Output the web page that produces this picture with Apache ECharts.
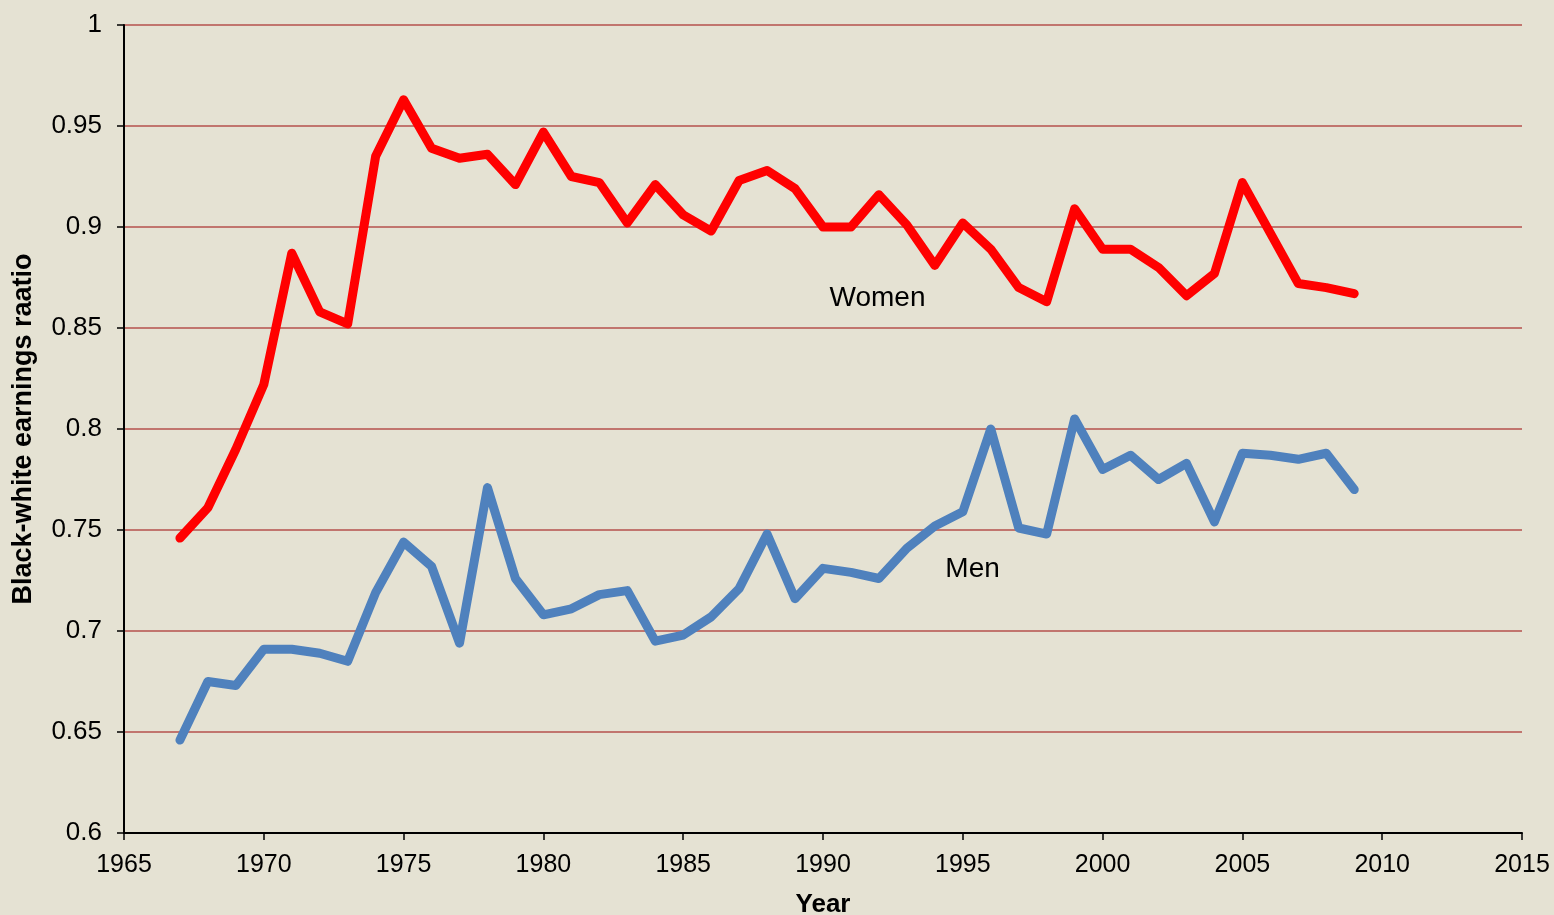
<!DOCTYPE html>
<html>
<head>
<meta charset="utf-8">
<script src="https://cdn.jsdelivr.net/npm/echarts@6/dist/echarts.min.js"></script>
<style>
html,body{margin:0;padding:0;background:#E5E2D3;overflow:hidden;}
#chart{width:1554px;height:915px;}
</style>
</head>
<body>
<div id="chart"></div>
<script>
const years = [1967,1968,1969,1970,1971,1972,1973,1974,1975,1976,1977,1978,1979,1980,1981,1982,1983,1984,1985,1986,1987,1988,1989,1990,1991,1992,1993,1994,1995,1996,1997,1998,1999,2000,2001,2002,2003,2004,2005,2006,2007,2008,2009];
const women = [0.746,0.761,0.790,0.822,0.887,0.858,0.852,0.935,0.963,0.939,0.934,0.936,0.921,0.947,0.925,0.922,0.902,0.921,0.906,0.898,0.923,0.928,0.919,0.900,0.900,0.916,0.901,0.881,0.902,0.889,0.870,0.863,0.909,0.889,0.889,0.880,0.866,0.877,0.922,0.897,0.872,0.870,0.867];
const men = [0.646,0.675,0.673,0.691,0.691,0.689,0.685,0.719,0.744,0.732,0.694,0.771,0.726,0.708,0.711,0.718,0.720,0.695,0.698,0.707,0.721,0.748,0.716,0.731,0.729,0.726,0.741,0.752,0.759,0.800,0.751,0.748,0.805,0.780,0.787,0.775,0.783,0.754,0.788,0.787,0.785,0.788,0.770];
const seriesNames = ['Women','Men'];
const labelAnchors = [[1991.95, 0.8645],[1995.35, 0.7306]];
const yAxisTitle = 'Black-white earnings raatio';
const xAxisTitle = 'Year';

const chart = echarts.init(document.getElementById('chart'));
const font = 'Liberation Sans, Arial, sans-serif';
function seriesLabel(i){
  return {symbol: 'rect', symbolSize: 1, itemStyle:{color:'transparent'}, silent: true,
    label: {show: true, position: 'inside', formatter: seriesNames[i], fontFamily: font, fontSize: 28, color: '#000'},
    data: [{coord: labelAnchors[i]}]};
}
chart.setOption({
  backgroundColor: '#E5E2D3',
  animation: false,
  grid: {left: 124, right: 32, top: 25, bottom: 82, containLabel: false, outerBoundsMode: 'none'},
  xAxis: {
    type: 'value', min: 1965, max: 2015, interval: 5,
    name: xAxisTitle, nameLocation: 'middle', nameGap: 59,
    nameTextStyle: {fontFamily: font, fontSize: 26, fontWeight: 'bold', color: '#000'},
    axisLine: {show: true, onZero: false, lineStyle: {color: '#000', width: 2}},
    axisTick: {show: true, length: 7, lineStyle: {color: '#000', width: 1.5}},
    axisLabel: {fontFamily: font, fontSize: 25, color: '#000', margin: 20, formatter: v => String(v)},
    splitLine: {show: false}
  },
  yAxis: {
    type: 'value', min: 0.6, max: 1, interval: 0.05,
    name: yAxisTitle, nameLocation: 'middle', nameGap: 87,
    nameTextStyle: {fontFamily: font, fontSize: 27, fontWeight: 'bold', color: '#000'},
    axisLine: {show: true, lineStyle: {color: '#000', width: 2}},
    axisTick: {show: true, length: 7, lineStyle: {color: '#000', width: 1.5}},
    axisLabel: {fontFamily: font, fontSize: 26, color: '#000', margin: 22,
      formatter: v => String(parseFloat(v.toFixed(2)))},
    splitLine: {show: true, lineStyle: {color: '#B5504C', width: 1.5}}
  },
  series: [
    {name: seriesNames[0], type: 'line', data: years.map((y,i)=>[y, women[i]]),
     showSymbol: false, lineStyle: {color: '#FF0000', width: 9, cap: 'round', join: 'round'}, itemStyle:{color:'#FF0000'},
     markPoint: seriesLabel(0)},
    {name: seriesNames[1], type: 'line', data: years.map((y,i)=>[y, men[i]]),
     showSymbol: false, lineStyle: {color: '#4F81BD', width: 9, cap: 'round', join: 'round'}, itemStyle:{color:'#4F81BD'},
     markPoint: seriesLabel(1)}
  ]
});
</script>
</body>
</html>
